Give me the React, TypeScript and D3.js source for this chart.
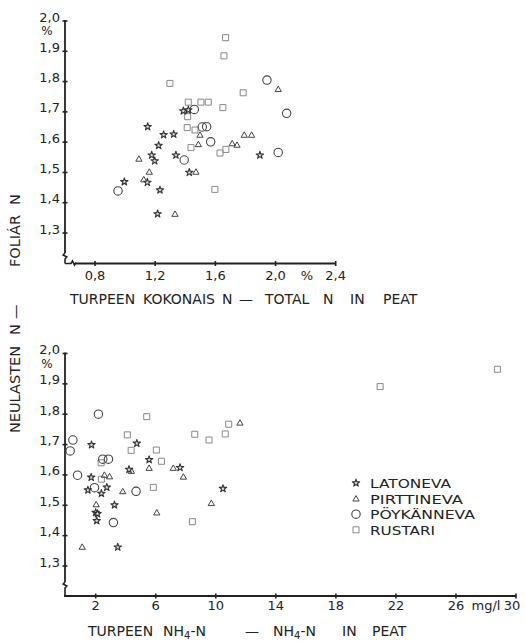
import React from 'react';
import * as d3 from 'd3';

type Pt = [number, number];

// ---------- tick values ----------
const yTickValues = [1.3, 1.4, 1.5, 1.6, 1.7, 1.8, 1.9, 2.0];
const topXTicks = [0.8, 1.2, 1.6, 2.0, 2.4];
const bottomXTicks = [2, 6, 10, 14, 18, 22, 26, 30];
const seriesNames = ['LATONEVA', 'PIRTTINEVA', 'PÖYKÄNNEVA', 'RUSTARI'];

// ---------- top chart: total N in peat (%) vs foliar N (%) ----------
const topLatoneva: Pt[] = [
  [1.387, 1.703], [1.42, 1.706], [1.15, 1.651], [1.256, 1.624], [1.323, 1.626],
  [1.223, 1.589], [1.177, 1.557], [1.197, 1.538], [1.338, 1.557], [1.896, 1.557],
  [0.995, 1.469], [1.148, 1.467], [1.232, 1.442], [1.427, 1.5], [1.216, 1.363],
];
const topPirttineva: Pt[] = [
  [2.018, 1.775], [1.498, 1.624], [1.792, 1.624], [1.841, 1.624], [1.487, 1.593],
  [1.712, 1.596], [1.744, 1.591], [1.092, 1.545], [1.161, 1.502], [1.124, 1.477],
  [1.471, 1.502], [1.332, 1.363],
];
const topPoykanneva: Pt[] = [
  [1.943, 1.805], [2.074, 1.695], [1.46, 1.708], [1.513, 1.65], [1.542, 1.651],
  [1.569, 1.601], [1.393, 1.541], [2.018, 1.566], [0.953, 1.439],
];
const topRustari: Pt[] = [
  [1.668, 1.945], [1.657, 1.885], [1.298, 1.794], [1.785, 1.763], [1.42, 1.732],
  [1.504, 1.732], [1.553, 1.732], [1.65, 1.714], [1.416, 1.684], [1.413, 1.648],
  [1.465, 1.64], [1.438, 1.582], [1.631, 1.564], [1.67, 1.576], [1.597, 1.444],
];

// ---------- bottom chart: NH4-N in peat (mg/l) vs foliar N (%) ----------
const botLatoneva: Pt[] = [
  [1.72, 1.699], [4.74, 1.704], [5.56, 1.65], [4.22, 1.618], [7.62, 1.624],
  [1.7, 1.592], [2.74, 1.559], [1.48, 1.55], [2.38, 1.539], [10.48, 1.555],
  [3.25, 1.501], [2.0, 1.476], [2.12, 1.472], [2.07, 1.449], [3.47, 1.362],
];
const botPirttineva: Pt[] = [
  [11.61, 1.772], [2.58, 1.6], [2.92, 1.595], [4.38, 1.613], [5.56, 1.623],
  [7.17, 1.623], [7.84, 1.594], [3.8, 1.546], [2.03, 1.503], [6.07, 1.476],
  [9.7, 1.507], [1.1, 1.363],
];
const botPoykanneva: Pt[] = [
  [2.18, 1.8], [0.48, 1.715], [0.3, 1.679], [2.47, 1.652], [2.85, 1.652],
  [0.79, 1.599], [1.92, 1.558], [4.69, 1.546], [3.18, 1.443],
];
const botRustari: Pt[] = [
  [5.4, 1.792], [4.11, 1.732], [4.36, 1.681], [6.04, 1.682], [6.38, 1.645],
  [2.36, 1.64], [2.38, 1.586], [5.84, 1.559], [8.44, 1.446], [8.6, 1.734],
  [9.55, 1.715], [10.63, 1.735], [10.86, 1.767], [20.95, 1.891], [28.76, 1.948],
];

const FONT = '"DejaVu Sans", Verdana, sans-serif';
const INK = '#222';

type Kind = 'star' | 'tri' | 'circ' | 'sq';

const starPath = d3.symbol().type(d3.symbolStar).size(17)() as string;
const triPath = d3.symbol().type(d3.symbolTriangle).size(17)() as string;
const sqPath = d3.symbol().type(d3.symbolSquare).size(36)() as string;

function Marker({ kind, x, y }: { kind: Kind; x: number; y: number }) {
  if (kind === 'circ') {
    return <circle cx={x} cy={y} r={4.2} fill="none" stroke="#444" strokeWidth={1.1} />;
  }
  if (kind === 'star') {
    return <path d={starPath} transform={`translate(${x},${y})`} fill="#ddd" stroke="#333" strokeWidth={1.1} strokeLinejoin="round" />;
  }
  if (kind === 'tri') {
    return <path d={triPath} transform={`translate(${x},${y + 0.6})`} fill="none" stroke="#444" strokeWidth={1} />;
  }
  return <path d={sqPath} transform={`translate(${x},${y})`} fill="none" stroke="#888" strokeWidth={1} />;
}

const fmt = (v: number) => v.toFixed(1).replace('.', ',');

function YAxis({ y, x0, yBottom, breakAt }: { y: d3.ScaleLinear<number, number>; x0: number; yBottom: number; breakAt: number }) {
  const top = y(2.0);
  return (
    <g>
      <line x1={x0} x2={x0} y1={top - 1} y2={breakAt} stroke={INK} strokeWidth={1.8} />
      <path d={`M${x0},${breakAt} l-1.8,2 l3.6,2 l-1.8,2 L${x0},${yBottom}`} fill="none" stroke={INK} strokeWidth={1.6} />
      {yTickValues.map((v) => (
        <g key={v}>
          <line x1={x0 - 2.5} x2={x0 + 2.5} y1={y(v)} y2={y(v)} stroke={INK} strokeWidth={1.6} />
          <text x={60} y={y(v) + 0.5} textAnchor="end" fontFamily={FONT} fontSize={13} fill={INK}>
            {fmt(v)}
          </text>
        </g>
      ))}
      <text x={47} y={top + 14} textAnchor="middle" fontFamily={FONT} fontSize={12} fill={INK}>%</text>
    </g>
  );
}

export default function App() {
  // top chart scales
  const xTop = d3.scaleLinear().domain([0.8, 2.4]).range([95, 335.7]);
  const yTop = d3.scaleLinear().domain([1.3, 2.0]).range([233, 21]);
  // bottom chart scales
  const xBot = d3.scaleLinear().domain([2, 30]).range([95.7, 516]);
  const yBot = d3.scaleLinear().domain([1.3, 2.0]).range([566, 353.5]);

  const topAxisY = 263.5;
  const botAxisY = 596;
  const axX = 65;

  const topSeries: [Pt[], Kind][] = [
    [topRustari, 'sq'], [topPirttineva, 'tri'], [topPoykanneva, 'circ'], [topLatoneva, 'star'],
  ];
  const botSeries: [Pt[], Kind][] = [
    [botRustari, 'sq'], [botPirttineva, 'tri'], [botPoykanneva, 'circ'], [botLatoneva, 'star'],
  ];
  const legendKinds: Kind[] = ['star', 'tri', 'circ', 'sq'];
  const legendWidths = [81, 93, 105, 65];

  return (
    <svg width={525} height={641} style={{ position: 'absolute', left: 0, top: 0, background: '#fff' }}>
      <rect width={525} height={641} fill="#fff" />

      {/* ---------- vertical common label ---------- */}
      <g transform="translate(20,433) rotate(-90)">
        <text fontFamily={FONT} fontSize={14.5} fill={INK}>
          <tspan x={0}>NEULASTEN</tspan>
          <tspan x={98}>N</tspan>
          <tspan x={114}>—</tspan>
          <tspan x={166}>FOLIÁR</tspan>
          <tspan x={228}>N</tspan>
        </text>
      </g>

      {/* ---------- top chart ---------- */}
      <YAxis y={yTop} x0={axX} yBottom={topAxisY} breakAt={253} />
      <path d={`M${axX},${topAxisY} L71,${topAxisY} l1.5,-2.5 l2,4 l1.5,-2.5`} fill="none" stroke={INK} strokeWidth={1.6} />
      <line x1={76} x2={xTop(2.4)} y1={topAxisY} y2={topAxisY} stroke={INK} strokeWidth={1.8} />
      {topXTicks.map((v) => (
        <g key={v}>
          <line x1={xTop(v)} x2={xTop(v)} y1={topAxisY - 2.5} y2={topAxisY + 2.5} stroke={INK} strokeWidth={1.6} />
          <text x={xTop(v)} y={280} textAnchor="middle" fontFamily={FONT} fontSize={13} fill={INK}>{fmt(v)}</text>
        </g>
      ))}
      <text x={307} y={280} textAnchor="middle" fontFamily={FONT} fontSize={13} fill={INK}>%</text>
      <text y={304} fontFamily={FONT} fontSize={14} fill={INK}>
        <tspan x={70}>TURPEEN</tspan>
        <tspan x={143}>KOKONAIS</tspan>
        <tspan x={222}>N</tspan>
        <tspan x={239}>—</tspan>
        <tspan x={265}>TOTAL</tspan>
        <tspan x={323}>N</tspan>
        <tspan x={350}>IN</tspan>
        <tspan x={383}>PEAT</tspan>
      </text>
      {topSeries.map(([data, kind]) =>
        data.map((d, i) => <Marker key={kind + i} kind={kind} x={xTop(d[0])} y={yTop(d[1])} />)
      )}

      {/* ---------- bottom chart ---------- */}
      <YAxis y={yBot} x0={axX} yBottom={botAxisY} breakAt={582} />
      <line x1={axX - 0.9} x2={xBot(30)} y1={botAxisY} y2={botAxisY} stroke={INK} strokeWidth={1.8} />
      {bottomXTicks.map((v) => (
        <g key={v}>
          <line x1={xBot(v)} x2={xBot(v)} y1={botAxisY - 2.5} y2={botAxisY + 2.5} stroke={INK} strokeWidth={1.6} />
          <text x={v === 30 ? xBot(v) - 4 : xBot(v)} y={610} textAnchor="middle" fontFamily={FONT} fontSize={13} fill={INK}>{v}</text>
        </g>
      ))}
      <text x={486} y={610} textAnchor="middle" fontFamily={FONT} fontSize={13} fill={INK}>mg/l</text>
      <text y={636} fontFamily={FONT} fontSize={14} fill={INK}>
        <tspan x={88}>TURPEEN</tspan>
        <tspan x={163}>NH</tspan><tspan fontSize={10} dy={3}>4</tspan><tspan dy={-3}>-N</tspan>
        <tspan x={245}>—</tspan>
        <tspan x={273}>NH</tspan><tspan fontSize={10} dy={3}>4</tspan><tspan dy={-3}>-N</tspan>
        <tspan x={342}>IN</tspan>
        <tspan x={372}>PEAT</tspan>
      </text>
      {botSeries.map(([data, kind]) =>
        data.map((d, i) => <Marker key={kind + i} kind={kind} x={xBot(d[0])} y={yBot(d[1])} />)
      )}

      {/* ---------- legend ---------- */}
      {seriesNames.map((name, i) => {
        const ly = 483 + i * 15.6;
        return (
          <g key={name}>
            <Marker kind={legendKinds[i]} x={356} y={ly} />
            <text x={370} y={ly + 5} fontFamily={FONT} fontSize={13} fill={INK}
              textLength={legendWidths[i]} lengthAdjust="spacingAndGlyphs">{name}</text>
          </g>
        );
      })}
    </svg>
  );
}
